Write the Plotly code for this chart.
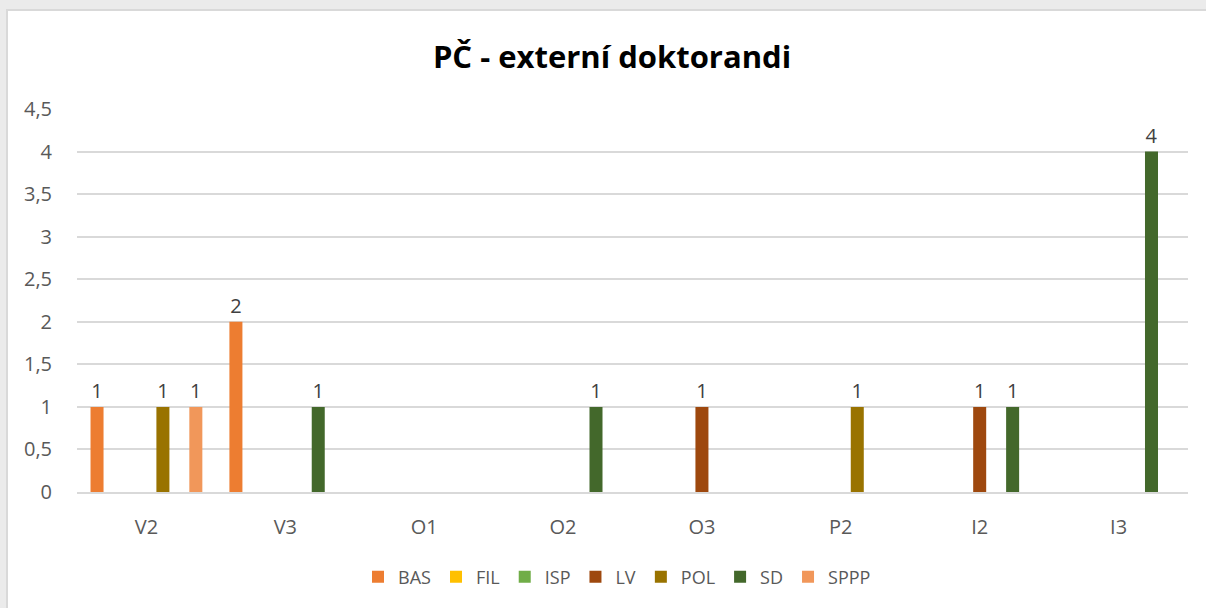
import plotly.graph_objects as go

categories = ["V2", "V3", "O1", "O2", "O3", "P2", "I2", "I3"]
series_names = ["BAS", "FIL", "ISP", "LV", "POL", "SD", "SPPP"]
BAS = [1, 2, None, None, None, None, None, None]
FIL = [None, None, None, None, None, None, None, None]
ISP = [None, None, None, None, None, None, None, None]
LV = [None, None, None, None, 1, None, 1, None]
POL = [1, None, None, None, None, 1, None, None]
SD = [None, 1, None, 1, None, None, 1, 4]
SPPP = [1, None, None, None, None, None, None, None]
series_values = [BAS, FIL, ISP, LV, POL, SD, SPPP]
colors = ["#ED7D31", "#FFC000", "#70AD47", "#9E480E", "#997300", "#43682B", "#F1975A"]
y_tickvals = [0, 0.5, 1, 1.5, 2, 2.5, 3, 3.5, 4, 4.5]
y_ticktext = ["0", "0,5", "1", "1,5", "2", "2,5", "3", "3,5", "4", "4,5"]

FONT = "Open Sans"
TXT = "#595959"

fig = go.Figure()
for name, vals, col in zip(series_names, series_values, colors):
    fig.add_trace(go.Bar(
        x=categories, y=vals, name=name, marker=dict(color=col, line=dict(width=0)),
        text=[("" if v is None else f"{v:g}") for v in vals],
        textposition="outside", textfont=dict(family=FONT, size=20, color="#404040"),
        cliponaxis=False,
    ))

W, H = 1206, 608
L, R, T, B = 77, 1188, 109, 492
pw, ph = R - L, B - T

fig.update_layout(
    width=W, height=H,
    margin=dict(l=L, r=W - R, t=T, b=H - B, autoexpand=False),
    paper_bgcolor="#EBEBEB", plot_bgcolor="rgba(0,0,0,0)",
    barmode="group", bargap=0.17, bargroupgap=0.21,
    font=dict(family=FONT, color=TXT, size=20),
    title=dict(text="<b>PČ - externí doktorandi</b>", x=612 / W, xref="container", xanchor="center",
               y=1 - 57 / H, yref="container", yanchor="middle",
               font=dict(family=FONT, size=31, color="#000000")),
    showlegend=True,
    legend=dict(orientation="h", xref="container", x=617 / W, xanchor="center",
                yref="container", y=1 - 577 / H, yanchor="middle",
                font=dict(family=FONT, size=18, color=TXT), itemwidth=30,
                traceorder="normal", bgcolor="rgba(0,0,0,0)"),
    xaxis=dict(showgrid=False, showline=True, linecolor="#D9D9D9", linewidth=2,
               ticks="", ticklabelstandoff=16, tickfont=dict(size=20, color=TXT),
               fixedrange=True),
    yaxis=dict(range=[0, 4.5], tickvals=y_tickvals, ticktext=y_ticktext,
               showgrid=True, gridcolor="#D9D9D9", gridwidth=2, zeroline=False,
               showline=False, ticks="", ticklabelstandoff=24,
               tickfont=dict(size=20, color=TXT), fixedrange=True),
    shapes=[dict(type="rect", xref="paper", yref="paper",
                 x0=(7 - L) / pw, x1=(W + 20 - L) / pw,
                 y0=(B - (H + 20)) / ph, y1=(B - 10) / ph,
                 fillcolor="white", line=dict(color="#D9D9D9", width=2), layer="below")],
)

fig.write_html("out.html", config={"displayModeBar": False},
               post_script="document.body.style.margin='0';document.body.style.overflow='hidden';")
